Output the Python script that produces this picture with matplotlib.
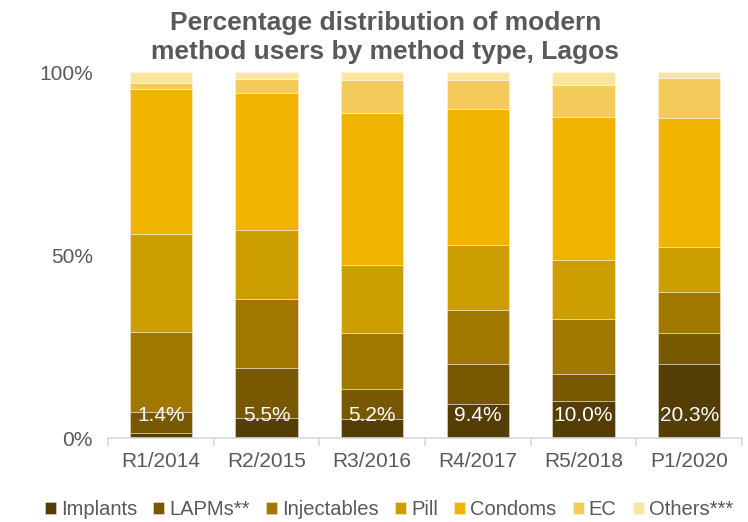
import numpy as np
import matplotlib.pyplot as plt

# Survey rounds and share (%) of modern method users by method
rounds = ['R1/2014', 'R2/2015', 'R3/2016', 'R4/2017', 'R5/2018', 'P1/2020']
methods = ['Implants', 'LAPMs**', 'Injectables', 'Pill', 'Condoms', 'EC', 'Others***']

implants = [1.4, 5.5, 5.2, 9.4, 10.0, 20.3]
lapms = [5.6, 13.5, 8.2, 10.8, 7.4, 8.5]
injectables = [22.0, 19.1, 15.4, 14.9, 15.2, 11.0]
pill = [26.7, 18.7, 18.4, 17.7, 16.1, 12.4]
condoms = [39.6, 37.5, 41.7, 37.1, 39.0, 35.2]
ec = [1.7, 3.8, 8.9, 7.8, 8.7, 11.0]
others = [3.0, 1.9, 2.2, 2.3, 3.6, 1.6]

series = [implants, lapms, injectables, pill, condoms, ec, others]
colors = ['#553d06', '#775700', '#a07800', '#cc9e00', '#f0b400', '#f4cb5a', '#f9e4a0']

txt = '#595959'
grid = '#d9d9d9'
plt.rcParams['font.family'] = ['Liberation Sans', 'DejaVu Sans']

fig = plt.figure(figsize=(7.48, 5.22), dpi=100)
ax = fig.add_axes([0.1444, 0.1609, 0.8476, 0.7011])

x = np.arange(len(rounds))
bottom = np.zeros(len(rounds))
for vals, name, c in zip(series, methods, colors):
    ax.bar(x, vals, 0.59, bottom=bottom, color=c, label=name,
           edgecolor=(1, 1, 1, 0.45), linewidth=0.6)
    bottom += np.array(vals)

# implant share written inside the base of each bar
for i, v in enumerate(implants):
    ax.annotate(f'{v:.1f}%', xy=(i, 0), xytext=(0, 16), textcoords='offset points',
                ha='center', va='center', color='white', fontsize=15)

ax.set_xlim(-0.5, len(rounds) - 0.5)
ax.set_ylim(0, 100)
ax.set_yticks([0, 50, 100])
ax.set_yticklabels(['0%', '50%', '100%'])
ax.set_xticks(x)
ax.set_xticklabels(rounds)
ax.set_xticks(np.arange(-0.5, len(rounds)), minor=True)

for s in ['top', 'right', 'left']:
    ax.spines[s].set_visible(False)
ax.spines['bottom'].set_color(grid)
ax.spines['bottom'].set_linewidth(1.2)
ax.tick_params(axis='y', length=0, pad=11, labelsize=15, labelcolor=txt)
ax.tick_params(axis='x', which='major', length=0, pad=10, labelsize=15, labelcolor=txt)
ax.tick_params(axis='x', which='minor', length=6, width=1.2, color=grid)

fig.suptitle('Percentage distribution of modern\nmethod users by method type, Lagos',
             x=0.515, y=0.978, fontsize=19, fontweight='bold', color=txt,
             family=['Liberation Sans Narrow', 'Liberation Sans', 'DejaVu Sans'],
             linespacing=1.25)

leg = fig.legend(loc='lower center', bbox_to_anchor=(0.52, -0.018), ncol=7, frameon=False,
                 fontsize=14.5, handlelength=0.55, handleheight=0.55, handletextpad=0.25,
                 columnspacing=0.8, borderaxespad=0.2)
for t in leg.get_texts():
    t.set_color(txt)

fig.savefig('out.png', dpi=100)
